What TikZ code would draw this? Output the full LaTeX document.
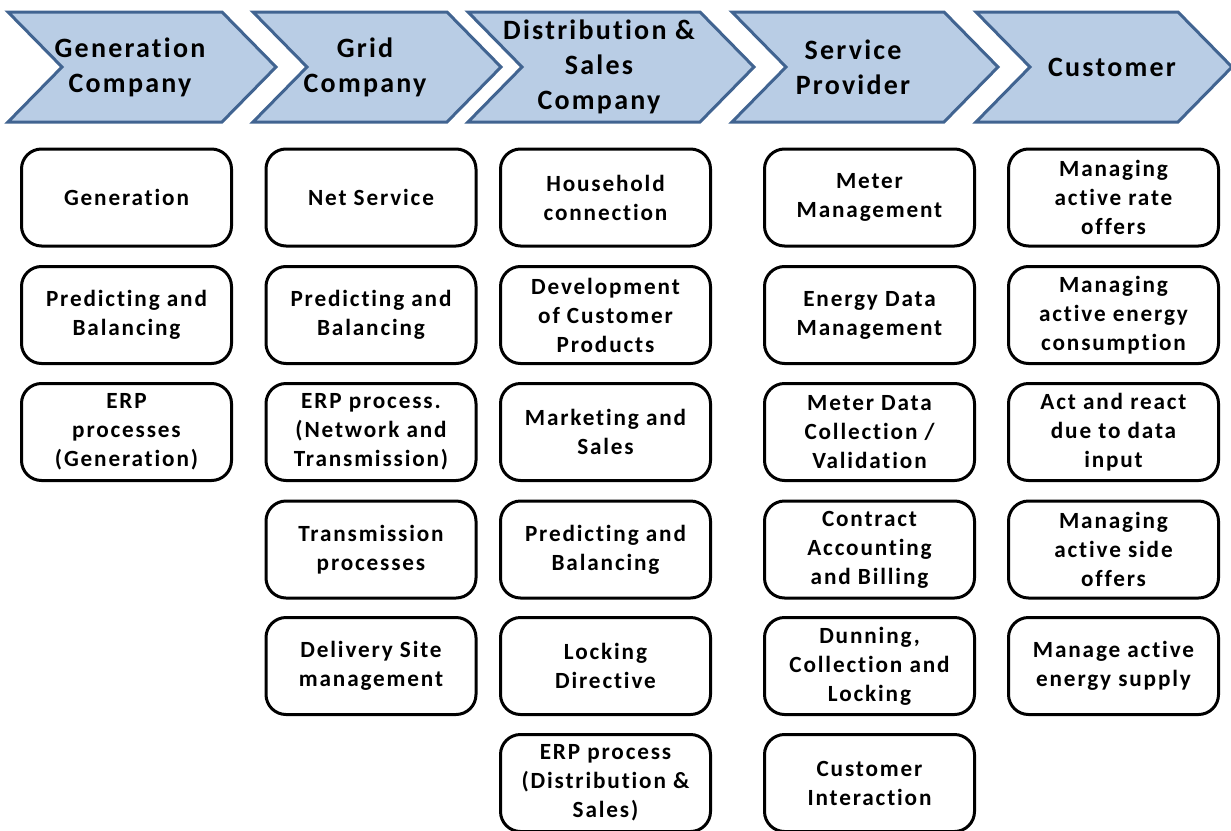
\documentclass[tikz,border=0pt]{standalone}
\usepackage{fontspec}
\newfontfamily\chartfont{Carlito}[LetterSpace=8,Ligatures={CommonOff,TeX}]
\usetikzlibrary{positioning}
\definecolor{chevfill}{RGB}{185,205,229}
\definecolor{chevline}{RGB}{65,100,145}
\begin{document}
\begin{tikzpicture}[x=0.5pt,y=-0.5pt,
  chev/.style={fill=chevfill,draw=chevline,line width=1.5pt,line join=miter},
  chevtext/.style={align=center,font=\chartfont\bfseries\fontsize{14}{17.5}\selectfont},
  card/.style={draw,line width=1.5pt,rounded corners=10pt,minimum width=105pt,minimum height=48.5pt,
    align=center,inner sep=1pt,font=\chartfont\bfseries\fontsize{11.6}{14.5}\selectfont}]
\useasboundingbox (0,0) rectangle (1231,830);

% value chain
\draw[chev] (8,12) -- (222,12) -- (276,67) -- (222,122) -- (8,122) -- (62,67) -- cycle;
\draw[chev] (253,12) -- (447,12) -- (501,67) -- (447,122) -- (253,122) -- (307,67) -- cycle;
\draw[chev] (468,12) -- (700,12) -- (754,67) -- (700,122) -- (468,122) -- (522,67) -- cycle;
\draw[chev] (732,12) -- (944,12) -- (998,67) -- (944,122) -- (732,122) -- (786,67) -- cycle;
\draw[chev] (976,12) -- (1178,12) -- (1232,67) -- (1178,122) -- (976,122) -- (1030,67) -- cycle;

\node[chevtext] (gen) at (130,67) {Generation\\Company};
\node[chevtext] (grid) at (365,67) {Grid\\Company};
\node[chevtext] (dist) at (599,67) {Distribution \&\\Sales\\Company};
\node[chevtext] (serv) at (853,67) {Service\\Provider};
\node[chevtext] (cust) at (1112,67) {Customer};

% generation company
\node[card] (gen1) at (126.5,197.5) {Generation};
\node[card] (gen2) at (126.5,315) {Predicting and\\Balancing};
\node[card] (gen3) at (126.5,432) {ERP\\processes\\(Generation)};

% grid company
\node[card] (grid1) at (371,197.5) {Net Service};
\node[card] (grid2) at (371,315) {Predicting and\\Balancing};
\node[card] (grid3) at (371,432) {ERP process.\\(Network and\\Transmission)};
\node[card] (grid4) at (371,549.5) {Transmission\\processes};
\node[card] (grid5) at (371,666) {Delivery Site\\management};

% distribution and sales
\node[card] (dist1) at (605.5,197.5) {Household\\connection};
\node[card] (dist2) at (605.5,315) {Development\\of Customer\\Products};
\node[card] (dist3) at (605.5,432) {Marketing and\\Sales};
\node[card] (dist4) at (605.5,549.5) {Predicting and\\Balancing};
\node[card] (dist5) at (605.5,666) {Locking\\Directive};
\node[card] (dist6) at (605.5,783) {ERP process\\(Distribution \&\\Sales)};

% service provider
\node[card] (serv1) at (869.5,197.5) {Meter\\Management};
\node[card] (serv2) at (869.5,315) {Energy Data\\Management};
\node[card] (serv3) at (869.5,432) {Meter Data\\Collection /\\Validation};
\node[card] (serv4) at (869.5,549.5) {Contract\\Accounting\\and Billing};
\node[card] (serv5) at (869.5,666) {Dunning,\\Collection and\\Locking};
\node[card] (serv6) at (869.5,783) {Customer\\Interaction};

% customer
\node[card] (cust1) at (1113.5,197.5) {Managing\\active rate\\offers};
\node[card] (cust2) at (1113.5,315) {Managing\\active energy\\consumption};
\node[card] (cust3) at (1113.5,432) {Act and react\\due to data\\input};
\node[card] (cust4) at (1113.5,549.5) {Managing\\active side\\offers};
\node[card] (cust5) at (1113.5,666) {Manage active\\energy supply};
\end{tikzpicture}
\end{document}
